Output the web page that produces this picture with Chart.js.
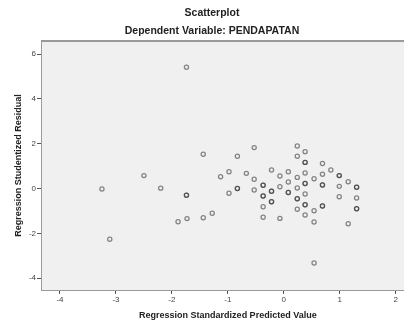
<!DOCTYPE html>
<html>
<head>
<meta charset="utf-8">
<script src="https://cdn.jsdelivr.net/npm/chart.js@4.4.1/dist/chart.umd.min.js"></script>
<style>
  html, body { margin: 0; background: #fff; overflow: hidden; }
  #wrap { width: 404px; height: 322px; overflow: hidden; }
</style>
</head>
<body>
<div id="wrap"><canvas id="scatter" width="419" height="322"></canvas></div>
<script>
// Regression Standardized Predicted Value (x) / Studentized Residual (y)
// repeated pairs are overlapping cases (they show darker in the plot)
const predicted = [
  -3.25, -3.11, -2.50, -2.20, -1.74, -1.74, -1.74, -1.89, -1.73,
  -1.44, -1.44, -1.28, -1.13, -0.98, -0.98, -0.83, -0.83, -0.83, -0.67,
  -0.53, -0.53, -0.53, -0.37, -0.37, -0.37, -0.37, -0.37, -0.37,
  -0.22, -0.22, -0.22, -0.22, -0.22, -0.07, -0.07, -0.07,
  0.08, 0.08, 0.08, 0.08, 0.24, 0.24, 0.24, 0.24, 0.24, 0.24, 0.24,
  0.38, 0.38, 0.38, 0.38, 0.38, 0.38, 0.38, 0.38, 0.38, 0.38,
  0.54, 0.54, 0.54, 0.54, 0.69, 0.69, 0.69, 0.69, 0.69, 0.69,
  0.84, 0.99, 0.99, 0.99, 0.99, 1.15, 1.15, 1.30, 1.30, 1.30, 1.30, 1.30
];
const residual = [
  -0.02, -2.26, 0.58, 0.02, 5.42, -0.30, -0.30, -1.48, -1.34,
  1.53, -1.30, -1.10, 0.53, 0.75, -0.21, 1.44, 0.00, 0.00, 0.68,
  1.83, 0.42, -0.06, 0.15, 0.15, -0.33, -0.33, -0.81, -1.28,
  0.83, -0.12, -0.12, -0.59, -0.59, 0.56, 0.08, -1.33,
  0.75, 0.29, -0.17, -0.17, 1.90, 1.44, 0.50, 0.03, -0.45, -0.45, -0.92,
  1.65, 1.17, 1.17, 0.70, 0.23, 0.23, -0.24, -0.72, -0.72, -1.18,
  0.44, -0.99, -1.49, -3.32, 1.12, 0.64, 0.16, 0.16, -0.78, -0.78,
  0.83, 0.58, 0.58, 0.10, -0.36, 0.31, -1.57, 0.06, 0.06, -0.42, -0.90, -0.90
];
const xTicks = [-4, -3, -2, -1, 0, 1, 2];
const yTicks = [-4, -2, 0, 2, 4, 6];

const FONT = '"Liberation Sans", Arial, sans-serif';

// grey plot background + top frame line
const plotFrame = {
  id: 'plotFrame',
  beforeDatasetsDraw(chart) {
    const { ctx, chartArea: a } = chart;
    ctx.save();
    ctx.fillStyle = '#f0f0f0';
    ctx.fillRect(a.left, a.top, a.right - a.left, a.bottom - a.top);
    ctx.restore();
  },
  afterDraw(chart) {
    const { ctx, chartArea: a } = chart;
    ctx.save();
    ctx.strokeStyle = '#9a9a9a';
    ctx.lineWidth = 2;
    ctx.beginPath();
    ctx.moveTo(a.left, a.top);
    ctx.lineTo(a.right, a.top);
    ctx.stroke();
    ctx.restore();
  }
};

const points = predicted.map((x, i) => ({ x: x, y: residual[i] }));

new Chart(document.getElementById('scatter'), {
  type: 'scatter',
  data: {
    datasets: [{
      data: points,
      pointStyle: 'circle',
      pointRadius: 2.1,
      pointBorderWidth: 1.25,
      pointBackgroundColor: 'rgba(0,0,0,0)',
      pointBorderColor: 'rgba(40,40,40,0.55)'
    }]
  },
  options: {
    responsive: false,
    animation: false,
    layout: { padding: { left: 5, right: 0, top: 0, bottom: 0 } },
    plugins: {
      legend: { display: false },
      tooltip: { enabled: false },
      title: {
        display: true,
        text: 'Scatterplot',
        color: '#222',
        font: { family: FONT, size: 10.5, weight: 'bold' },
        padding: { top: 7, bottom: 0 }
      },
      subtitle: {
        display: true,
        text: 'Dependent Variable: PENDAPATAN',
        color: '#222',
        font: { family: FONT, size: 10.5, weight: 'bold' },
        padding: { top: 5.5, bottom: 3.3 }
      }
    },
    scales: {
      x: {
        type: 'linear',
        min: -4.321,
        max: 2.321,
        afterFit(s) { s.height = 32; },
        afterBuildTicks(s) { s.ticks = xTicks.map(v => ({ value: v })); },
        grid: { drawOnChartArea: false, color: '#555', tickLength: 4 },
        border: { color: '#9a9a9a', width: 2 },
        ticks: { color: '#444', font: { family: FONT, size: 8 }, padding: 1 },
        title: {
          display: true,
          text: 'Regression Standardized Predicted Value',
          color: '#222',
          font: { family: FONT, size: 9, weight: 'bold' },
          padding: { top: 0, bottom: 1.1 }
        }
      },
      y: {
        type: 'linear',
        min: -4.527,
        max: 6.589,
        afterFit(s) { s.width = 37; },
        afterBuildTicks(s) { s.ticks = yTicks.map(v => ({ value: v })); },
        grid: { drawOnChartArea: false, color: '#555', tickLength: 5 },
        border: { color: '#9a9a9a', width: 2 },
        ticks: { color: '#444', font: { family: FONT, size: 8 }, padding: 1 },
        title: {
          display: true,
          text: 'Regression Studentized Residual',
          color: '#222',
          font: { family: FONT, size: 9, weight: 'bold' },
          padding: { top: 8.6, bottom: 0 }
        }
      }
    }
  },
  plugins: [plotFrame]
});
</script>
</body>
</html>
